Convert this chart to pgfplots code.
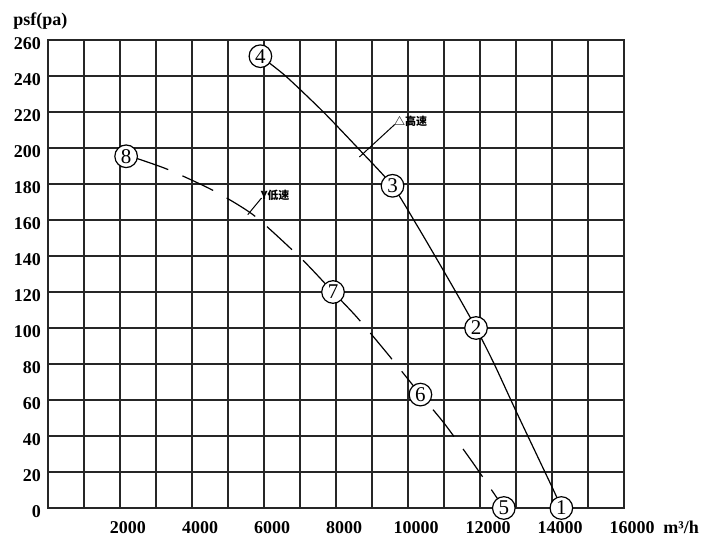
\documentclass[border=0pt]{standalone}
\usepackage{pgfplots}
\pgfplotsset{compat=1.18}
\usepackage{fontspec}
\setmainfont{Liberation Serif}
\newfontfamily\cjk{Noto Sans CJK SC}

\begin{document}
\begin{tikzpicture}
\useasboundingbox (-24pt,-21.5pt) rectangle (340pt,254pt);
\begin{axis}[
    scale only axis,
    width=288pt, height=234pt,
    xmin=0, xmax=16000, ymin=0, ymax=260,
    xtick={2000,4000,...,16000},
    minor xtick={1000,3000,...,15000},
    ytick={0,20,...,260},
    grid=both,
    grid style={black!85, line width=1pt},
    major grid style={black!85, line width=1pt},
    minor grid style={black!85, line width=1pt},
    axis line style={black!85, line width=1pt},
    major tick length=0pt, minor tick length=0pt,
    scaled x ticks=false,
    /pgf/number format/assume math mode=true,
    /pgf/number format/1000 sep={},
    xticklabel style={font=\bfseries\fontsize{9}{10}\selectfont, xshift=4pt, yshift=-3pt},
    yticklabel style={font=\bfseries\fontsize{9}{10}\selectfont, yshift=-2pt},
    clip=false,
]

% high speed (delta)
\addplot[black, line width=0.6pt, smooth, tension=0.4] coordinates {
    (5900,251) (6600,240) (7650,220) (8700,198) (9570,179)
    (10250,157) (10750,140) (11300,121) (11890,100)
    (12395,80) (13020,53) (14040,10) (14260,0)
};

% low speed (Y)
\addplot[black, line width=0.6pt, smooth, tension=0.4,
    dash pattern=on 17pt off 7.75pt, dash phase=19.6pt] coordinates {
    (2170,195.4) (2447,194.3) (3338,188) (4579,176.5) (5710,162.7)
    (7034,138.6) (7917,120) (8580,106) (9460,85) (10345,63)
    (11007,47) (11807,25) (12662,0)
};

% numbered points
\addplot[draw=none, nodes near coords, point meta=explicit symbolic,
    nodes near coords style={circle, draw=black, fill=white, inner sep=0pt,
        minimum size=11.3pt, anchor=center, line width=0.6pt,
        font=\fontsize{10.5}{11}\selectfont}] coordinates {
    (14260,0)[1] (11890,100)[2] (9570,179)[3] (5900,251)[4]
    (12662,0)[5] (10345,63)[6] (7917,120)[7] (2170,195.4)[8]
};

% leaders and labels
\draw[line width=0.5pt] (axis cs:8650,195) -- (axis cs:9628,213);
\node[anchor=west, inner sep=0pt, font=\cjk\bfseries\fontsize{5.5}{6}\selectfont]
    at (axis cs:9600,215) {△高速};
\draw[line width=0.5pt] (axis cs:5550,163) -- (axis cs:5931,172.2);
\node[anchor=west, inner sep=0pt, font=\cjk\bfseries\fontsize{5.5}{6}\selectfont]
    at (axis cs:5900,173.5) {Y低速};

\node[anchor=west, inner sep=0pt, font=\bfseries\fontsize{9}{10}\selectfont]
    at (rel axis cs:0,1) [xshift=-17.5pt, yshift=9.5pt] {psf(pa)};
\node[anchor=west, inner sep=0pt, font=\bfseries\fontsize{9}{10}\selectfont]
    at (rel axis cs:1,0) [xshift=19.5pt, yshift=-9.5pt] {m³/h};
\end{axis}
\end{tikzpicture}
\end{document}
